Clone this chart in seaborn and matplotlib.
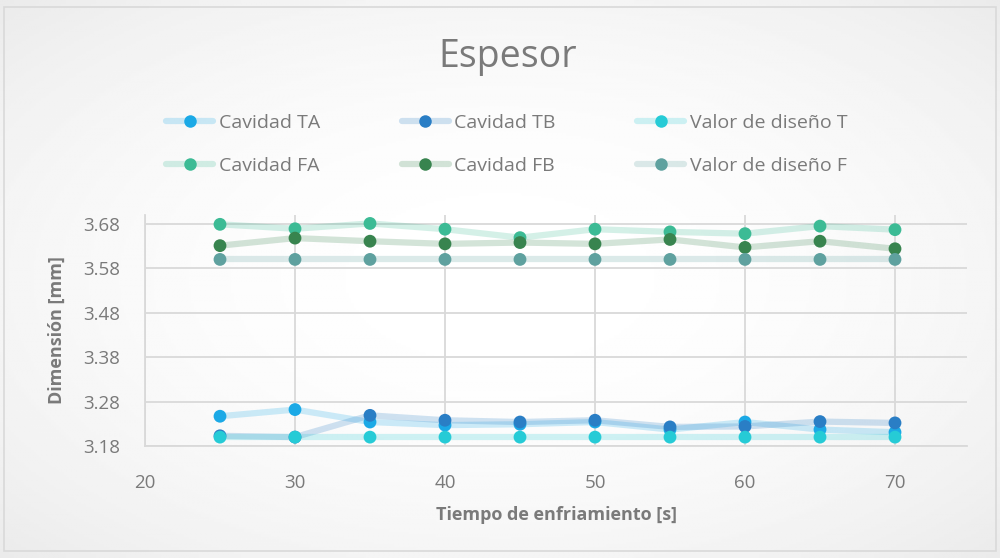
import numpy as np
import pandas as pd
import matplotlib
matplotlib.use("Agg")
import matplotlib.pyplot as plt
import seaborn as sns
from matplotlib.lines import Line2D
from matplotlib.patches import Rectangle

# ===============================
# DATA
# ===============================
tiempo = [25, 30, 35, 40, 45, 50, 55, 60, 65, 70]

cavidad_ta = [3.247, 3.262, 3.234, 3.227, 3.229, 3.234, 3.217, 3.234, 3.217, 3.211]
cavidad_tb = [3.203, 3.200, 3.249, 3.238, 3.234, 3.238, 3.223, 3.224, 3.235, 3.232]
diseno_t = [3.20, 3.20, 3.20, 3.20, 3.20, 3.20, 3.20, 3.20, 3.20, 3.20]
cavidad_fa = [3.679, 3.669, 3.681, 3.668, 3.649, 3.668, 3.662, 3.658, 3.675, 3.667]
cavidad_fb = [3.631, 3.648, 3.641, 3.635, 3.638, 3.635, 3.645, 3.627, 3.641, 3.624]
diseno_f = [3.60, 3.60, 3.60, 3.60, 3.60, 3.60, 3.60, 3.60, 3.60, 3.60]

series_names = ["Cavidad TA", "Cavidad TB", "Valor de diseño T",
                "Cavidad FA", "Cavidad FB", "Valor de diseño F"]
series_values = [cavidad_ta, cavidad_tb, diseno_t, cavidad_fa, cavidad_fb, diseno_f]

x_ticks = [20, 30, 40, 50, 60, 70]
y_ticks = [3.18, 3.28, 3.38, 3.48, 3.58, 3.68]

# ===============================
# STYLE
# ===============================
marker_colors = {
    "Cavidad TA": "#1BA9E6",
    "Cavidad TB": "#2A7EC5",
    "Valor de diseño T": "#26CBD6",
    "Cavidad FA": "#3CBB95",
    "Cavidad FB": "#38844F",
    "Valor de diseño F": "#5FA19F",
}
text_gray = "#7A7A7A"
grid_gray = "#D9D9D9"

sns.set_style("white")
plt.rcParams['font.family'] = ['Open Sans', 'DejaVu Sans']

df = pd.DataFrame({
    "tiempo": np.tile(tiempo, len(series_names)),
    "valor": np.concatenate(series_values),
    "serie": np.repeat(series_names, len(tiempo)),
})

fig = plt.figure(figsize=(10, 5.58), dpi=100)

# soft radial background like the original chart area
bg = fig.add_axes([0, 0, 1, 1], zorder=-10)
gx, gy = np.meshgrid(np.linspace(-1, 1, 400), np.linspace(-1, 1, 224))
r = np.sqrt(gx ** 2 + gy ** 2) / np.sqrt(2)
bg.imshow(1.0 - 0.08 * r ** 2, cmap="gray", vmin=0, vmax=1, aspect="auto",
          extent=[0, 1, 0, 1])
bg.set_axis_off()
fig.patches.append(Rectangle((0.004, 0.012), 0.992, 0.976, transform=fig.transFigure,
                             fill=False, edgecolor=grid_gray, lw=1.2))

ax = fig.add_axes([0.145, 0.2007, 0.822, 0.414])
ax.set_facecolor("none")

sns.lineplot(data=df, x="tiempo", y="valor", hue="serie", palette=marker_colors,
             hue_order=series_names, lw=4.5, alpha=0.22, legend=False, ax=ax,
             zorder=2)
sns.scatterplot(data=df, x="tiempo", y="valor", hue="serie", palette=marker_colors,
                hue_order=series_names, s=85, linewidth=0, legend=False, ax=ax,
                zorder=3)

ax.set_xlim(20, 74.8)
ax.set_ylim(3.18, 3.70)
ax.set_xticks(x_ticks)
ax.set_yticks(y_ticks)
ax.set_yticklabels([f"{v:.2f}" for v in y_ticks])
ax.tick_params(axis="both", length=0, labelsize=13.5, labelcolor=text_gray)
ax.tick_params(axis="x", pad=20)
ax.tick_params(axis="y", pad=18)
ax.grid(True, color=grid_gray, lw=1.3)
ax.set_axisbelow(True)
for side in ["top", "right"]:
    ax.spines[side].set_visible(False)
for side in ["left", "bottom"]:
    ax.spines[side].set_color(grid_gray)
    ax.spines[side].set_linewidth(1.3)

ax.set_xlabel("Tiempo de enfriamiento [s]", fontsize=13, fontweight="bold",
              color=text_gray, labelpad=10)
ax.set_ylabel("Dimensión [mm]", fontsize=13, fontweight="bold", color=text_gray,
              labelpad=12)

fig.text(0.508, 0.897, "Espesor", ha="center", va="center", fontsize=27,
         color=text_gray)

# legend: rows TA/TB/T and FA/FB/F
legend_order = ["Cavidad TA", "Cavidad FA", "Cavidad TB", "Cavidad FB",
                "Valor de diseño T", "Valor de diseño F"]
handles = []
for name in legend_order:
    c = marker_colors[name]
    handles.append(Line2D([0], [0], color=matplotlib.colors.to_rgba(c, 0.22), lw=4.5,
                          marker="o", markersize=9, markerfacecolor=c,
                          markeredgewidth=0))
fig.legend(handles, legend_order, ncol=3, loc="center", bbox_to_anchor=(0.507, 0.741),
           frameon=False, fontsize=14, labelcolor=text_gray, handlelength=2.4,
           handletextpad=0.3, columnspacing=4.2, labelspacing=1.3)

fig.savefig("out.png", dpi=100)
